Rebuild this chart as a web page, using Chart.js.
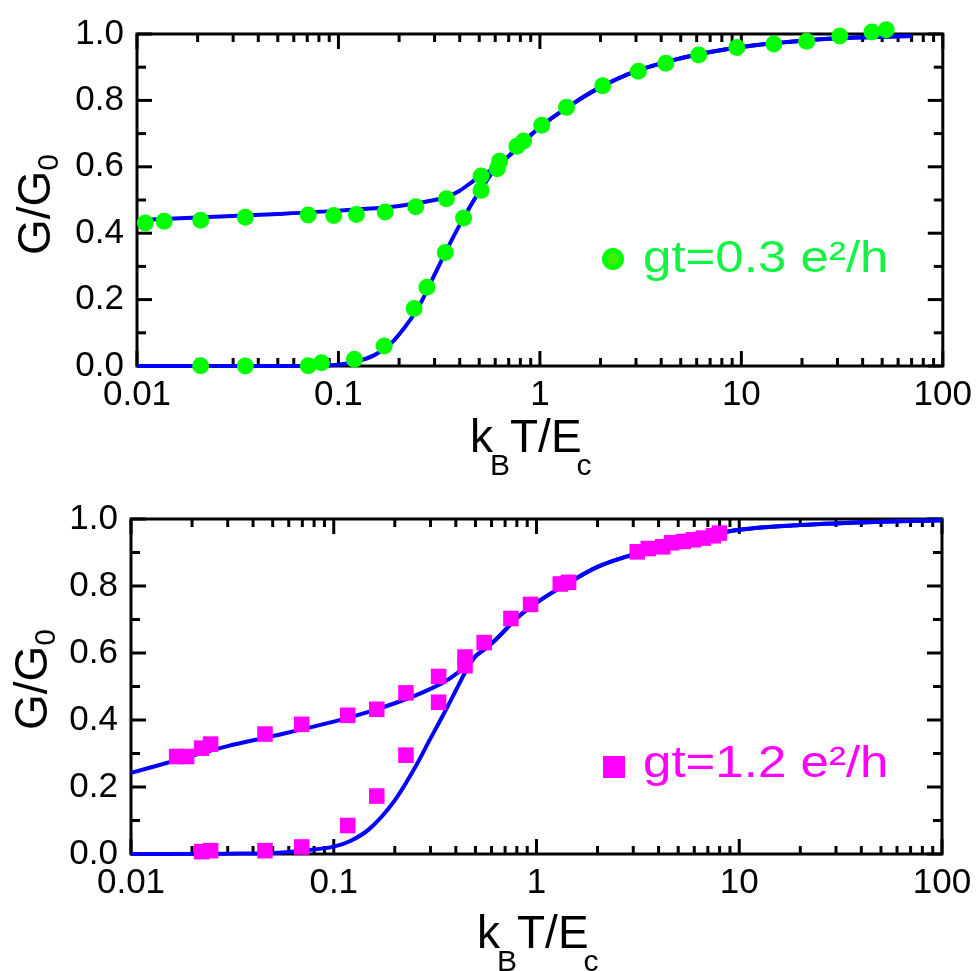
<!DOCTYPE html>
<html>
<head>
<meta charset="utf-8">
<script src="https://cdn.jsdelivr.net/npm/chart.js@4.4.0/dist/chart.umd.min.js"></script>
<style>
html,body{margin:0;padding:0;background:#fff;width:980px;height:971px;overflow:hidden}
canvas{position:absolute;left:0}
#c1{top:0}
#c2{top:485px}
</style>
</head>
<body>
<canvas id="c1" width="980" height="485"></canvas>
<canvas id="c2" width="980" height="486"></canvas>
<script>
// ---------- axis ticks ----------
const xTickValues = [0.01, 0.1, 1, 10, 100];
const xTickLabels = ['0.01', '0.1', '1', '10', '100'];
const xMinorSteps = [2, 3, 4, 5, 6, 7, 8, 9];
const yTickValues = [0, 0.2, 0.4, 0.6, 0.8, 1.0];
const yTickLabels = ['0.0', '0.2', '0.4', '0.6', '0.8', '1.0'];
const yMinorValues = [0.1, 0.3, 0.5, 0.7, 0.9];

// ---------- top panel (gt = 0.3) ----------
const topLegend = 'gt=0.3 e\u00B2/h';
const topDataX = [0.0110,0.01364,0.0207,0.0345,0.0708,0.0948,0.1228,0.1706,0.242,0.3436,0.5105,
                  0.0207,0.0345,0.0708,0.0824,0.120,0.1686,0.2377,0.275,0.339,0.418,0.5105,
                  0.614,0.631,0.769,0.830,1.021,1.356,2.05,3.08,4.22,6.14,9.50,14.5,21.1,30.8,44.5,52.4];
const topDataY = [0.431,0.436,0.439,0.448,0.455,0.453,0.456,0.464,0.480,0.504,0.572,
                  0.001,0.000,0.001,0.010,0.020,0.060,0.173,0.237,0.342,0.446,0.529,
                  0.594,0.617,0.662,0.678,0.725,0.779,0.844,0.888,0.912,0.937,0.959,0.970,0.978,0.994,1.006,1.013];
const topFitHighX = [0.01,0.02,0.05,0.1,0.2,0.3,0.35,0.4,0.45,0.5,0.55,0.6];
const topFitHighY = [0.440,0.447,0.458,0.468,0.482,0.500,0.511,0.528,0.550,0.571,0.585,0.595];
const topFitLowX = [0.01,0.03,0.05,0.08,0.1,0.12,0.15,0.18,0.2,0.25,0.3,0.35,0.4,0.45,0.5,0.55,0.6];
const topFitLowY = [0,0,0,0.001,0.004,0.012,0.032,0.065,0.095,0.178,0.275,0.358,0.425,0.480,0.525,0.562,0.595];
const topFitTailX = [0.65,0.7,0.8,0.9,1,1.5,2,3,5,7,10,15,20,30,50,70];
const topFitTailY = [0.613,0.632,0.665,0.695,0.720,0.795,0.840,0.888,0.927,0.946,0.961,0.973,0.980,0.987,0.992,0.994];

// ---------- bottom panel (gt = 1.2) ----------
const botLegend = 'gt=1.2 e\u00B2/h';
const botDataX = [0.0168,0.0188,0.0223,0.0247,0.0458,0.0695,0.1172,0.163,0.227,0.329,0.444,
                  0.0223,0.0247,0.0458,0.0695,0.1172,0.163,0.227,0.329,0.444,
                  0.552,0.748,0.935,1.31,1.44,3.14,3.56,4.19,4.64,5.30,5.94,6.66,7.46,7.98];
const botDataY = [0.291,0.291,0.316,0.328,0.358,0.387,0.414,0.432,0.481,0.530,0.588,
                  0.007,0.010,0.010,0.021,0.085,0.173,0.295,0.453,0.562,
                  0.631,0.703,0.745,0.806,0.811,0.902,0.912,0.917,0.929,0.933,0.938,0.943,0.950,0.958];
const botFitHighX = [0.01,0.02,0.03,0.05,0.1,0.15,0.2,0.25,0.3,0.35,0.4,0.45,0.5];
const botFitHighY = [0.242,0.293,0.322,0.352,0.395,0.425,0.450,0.472,0.493,0.513,0.537,0.563,0.590];
const botFitLowX = [0.01,0.03,0.05,0.07,0.1,0.12,0.15,0.2,0.25,0.3,0.35,0.4,0.45,0.5];
const botFitLowY = [0,0.001,0.003,0.010,0.022,0.038,0.075,0.160,0.255,0.345,0.420,0.488,0.548,0.590];
const botFitTailX = [0.55,0.6,0.7,0.75,0.85,1,1.5,2,3,5,7,10,20,50,100];
const botFitTailY = [0.610,0.628,0.668,0.688,0.718,0.750,0.816,0.857,0.894,0.933,0.952,0.968,0.982,0.992,0.996];

const FONT = "'Liberation Sans', Arial, Helvetica, sans-serif";
const BLUE = '#0000ff';

function pts(xs, ys) { return xs.map((x, i) => ({ x: x, y: ys[i] })); }

function drawParts(ctx, parts, x, y, mainSize, subSize, subDrop) {
  ctx.textBaseline = 'alphabetic';
  ctx.textAlign = 'left';
  parts.forEach(p => {
    ctx.font = (p.sub ? subSize : mainSize) + 'px ' + FONT;
    ctx.fillText(p.t, x, y + (p.sub ? subDrop : 0));
    x += ctx.measureText(p.t).width + (p.kern || 0);
  });
}

function decor(o) {
  return {
    id: 'decor',
    beforeDatasetsDraw(chart) {
      const ctx = chart.ctx, a = chart.chartArea, xs = chart.scales.x, ys = chart.scales.y;
      ctx.save();
      ctx.strokeStyle = '#000';
      ctx.lineWidth = 3;
      ctx.lineCap = 'butt';
      const seg = (x1, y1, x2, y2) => { ctx.beginPath(); ctx.moveTo(x1, y1); ctx.lineTo(x2, y2); ctx.stroke(); };
      xTickValues.forEach((v, i) => {
        const px = xs.getPixelForValue(v);
        seg(px, a.bottom, px, a.bottom - 15);
        seg(px, a.top, px, a.top + 15);
        if (i < xTickValues.length - 1) {
          xMinorSteps.forEach(m => {
            const qx = xs.getPixelForValue(v * m);
            seg(qx, a.bottom, qx, a.bottom - 8);
            seg(qx, a.top, qx, a.top + 8);
          });
        }
      });
      yTickValues.forEach(v => {
        const py = ys.getPixelForValue(v);
        seg(a.left, py, a.left + 15, py);
        seg(a.right, py, a.right - 15, py);
      });
      yMinorValues.forEach(v => {
        const py = ys.getPixelForValue(v);
        seg(a.left, py, a.left + 9, py);
        seg(a.right, py, a.right - 9, py);
      });
      ctx.strokeRect(a.left, a.top, a.right - a.left, a.bottom - a.top);
      ctx.restore();
    },
    afterDraw(chart) {
      const ctx = chart.ctx;
      ctx.save();
      ctx.fillStyle = '#000';
      // x title
      drawParts(ctx, [{t:'k', kern:-3}, {t:'B', sub:true, kern:0}, {t:'T/E', kern:-5}, {t:'c', sub:true}],
        o.xTitleX, o.xTitleY, 46, 30, 23);
      // y title (rotated)
      ctx.save();
      ctx.translate(o.yTitleX, o.yTitleY);
      ctx.rotate(-Math.PI / 2);
      drawParts(ctx, [{t:'G/G'}, {t:'0', sub:true}], 0, 0, 46, 30, 8);
      ctx.restore();
      // legend
      ctx.fillStyle = o.color;
      if (o.pointStyle === 'circle') {
        ctx.beginPath(); ctx.arc(o.legX, o.legY, 11, 0, Math.PI * 2); ctx.fill();
        ctx.fillStyle = '#3cf000';
        ctx.beginPath(); ctx.arc(o.legX, o.legY, 6, 0, Math.PI * 2); ctx.fill();
      } else {
        ctx.fillRect(o.legX - 11, o.legY - 11, 22, 22);
      }
      ctx.translate(o.legTextX, o.legTextY);
      ctx.scale(1.16, 1);
      ctx.fillStyle = o.textColor;
      ctx.font = '44px ' + FONT;
      ctx.textBaseline = 'alphabetic';
      ctx.textAlign = 'left';
      ctx.fillText(o.legend, 0, 0);
      ctx.restore();
    }
  };
}

function buildChart(id, o) {
  const lineDs = (xs, ys) => ({
    data: pts(xs, ys), showLine: true, borderColor: BLUE, borderWidth: 4,
    pointRadius: 0, pointHoverRadius: 0, cubicInterpolationMode: 'monotone', fill: false, order: 1, clip: false
  });
  new Chart(document.getElementById(id), {
    type: 'scatter',
    data: {
      datasets: [
        { label: o.legend, data: pts(o.dataX, o.dataY), showLine: false, pointStyle: o.pointStyle,
          pointRadius: o.pointRadius, pointHoverRadius: o.pointRadius, backgroundColor: o.color,
          borderWidth: 0, order: 0, clip: false },
        lineDs(o.fitHighX.concat(o.fitTailX), o.fitHighY.concat(o.fitTailY)),
        lineDs(o.fitLowX.concat(o.fitTailX), o.fitLowY.concat(o.fitTailY))
      ]
    },
    options: {
      responsive: false,
      animation: false,
      events: [],
      devicePixelRatio: 1,
      layout: { padding: { left: 0, top: o.padTop, right: o.padRight, bottom: 0 } },
      plugins: { legend: { display: false }, tooltip: { enabled: false } },
      scales: {
        x: {
          type: 'logarithmic', min: 0.01, max: 100,
          grid: { display: false, drawTicks: false }, border: { display: false },
          ticks: { autoSkip: false, maxRotation: 0, minRotation: 0, padding: 8, color: '#000',
                   font: { family: FONT, size: 35 }, callback: (v, i) => xTickLabels[i] },
          afterBuildTicks: s => { s.ticks = xTickValues.map(v => ({ value: v })); },
          afterFit: s => { s.height = o.xAxisHeight; }
        },
        y: {
          type: 'linear', min: 0, max: 1,
          grid: { display: false, drawTicks: false }, border: { display: false },
          ticks: { autoSkip: false, padding: 13, color: '#000',
                   font: { family: FONT, size: 35 }, callback: (v, i) => yTickLabels[i] },
          afterBuildTicks: s => { s.ticks = yTickValues.map(v => ({ value: v })); },
          afterFit: s => { s.width = o.yAxisWidth; }
        }
      }
    },
    plugins: [decor(o)]
  });
}

buildChart('c1', {
  legend: topLegend, dataX: topDataX, dataY: topDataY,
  fitHighX: topFitHighX, fitHighY: topFitHighY, fitLowX: topFitLowX, fitLowY: topFitLowY,
  fitTailX: topFitTailX, fitTailY: topFitTailY,
  color: '#00ff00', textColor: '#14f244', pointStyle: 'circle', pointRadius: 8.5,
  padTop: 27, padRight: 32, yAxisWidth: 137, xAxisHeight: 119,
  xTitleX: 470, xTitleY: 452, yTitleX: 50, yTitleY: 255,
  legX: 613, legY: 259, legTextX: 643, legTextY: 272
});

buildChart('c2', {
  legend: botLegend, dataX: botDataX, dataY: botDataY,
  fitHighX: botFitHighX, fitHighY: botFitHighY, fitLowX: botFitLowX, fitLowY: botFitLowY,
  fitTailX: botFitTailX, fitTailY: botFitTailY,
  color: '#ff00ff', textColor: '#ff00ff', pointStyle: 'rect', pointRadius: 11,
  padTop: 29, padRight: 38, yAxisWidth: 131, xAxisHeight: 117,
  xTitleX: 477, xTitleY: 463, yTitleX: 47, yTitleY: 245,
  legX: 614, legY: 282, legTextX: 643, legTextY: 292
});
</script>
</body>
</html>
